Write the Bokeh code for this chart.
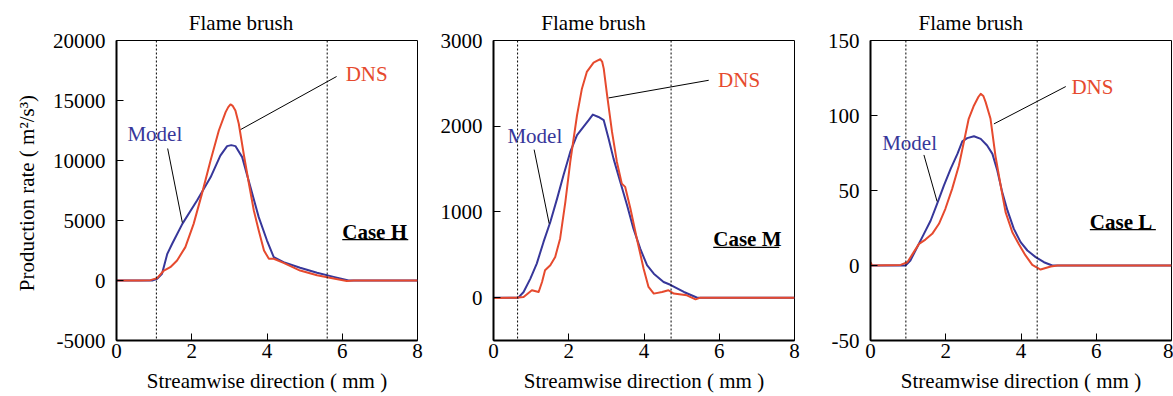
from bokeh.plotting import figure
from bokeh.layouts import row
from bokeh.models import Span, Label, FixedTicker, Range1d
from bokeh.embed import file_html
from bokeh.resources import INLINE

FONT = "Liberation Serif"
FS = "21px"
DNS_COLOR = "#e64a2e"
MODEL_COLOR = "#37379a"

# ---------------- data ----------------
x_ticks = [0, 2, 4, 6, 8]

# Case H
h_dns_x = [0, 0.6, 0.9, 1.08, 1.26, 1.43, 1.61, 1.83, 2.05, 2.27, 2.5, 2.72, 2.9, 2.97, 3.03, 3.09,
           3.16, 3.25, 3.38, 3.52, 3.65, 3.78, 3.92, 4.05, 4.18, 4.44, 4.88, 5.33, 5.77, 6.12, 6.3, 8.0]
h_dns_y = [0, 0, 30, 200, 830, 1110, 1670, 2780, 4720, 7220, 10000, 12500, 14030, 14450, 14670, 14550,
           14170, 13060, 10560, 8060, 5830, 4170, 2500, 1810, 1810, 1470, 830, 440, 170, -50, 0, 0]
h_model_x = [0, 0.95, 1.08, 1.21, 1.35, 1.48, 1.75, 2.14, 2.5, 2.76, 2.94, 3.05, 3.16, 3.34, 3.56, 3.78,
             4.0, 4.18, 4.44, 4.88, 5.33, 5.77, 6.17, 8.0]
h_model_y = [0, 0, 140, 560, 2220, 3060, 4720, 6670, 8600, 10400, 11200, 11280, 11200, 10280, 7780, 5280,
             3330, 1940, 1530, 1060, 640, 300, 0, 0]
h_brush = [1.06, 5.6]
h_yticks = [-5000, 0, 5000, 10000, 15000, 20000]
h_yrange = [-5000, 20000]

# Case M
m_dns_x = [0, 0.6, 0.8, 1.02, 1.2, 1.29, 1.37, 1.51, 1.64, 1.77, 1.91, 2.04, 2.22, 2.35, 2.48, 2.66,
           2.76, 2.84, 2.89, 2.93, 3.02, 3.15, 3.28, 3.41, 3.5, 3.64, 3.81, 3.99, 4.12, 4.26, 4.48,
           4.65, 4.79, 5.14, 5.37, 5.5, 8.0]
m_dns_y = [-5, 0, 8, 86, 66, 183, 320, 378, 475, 688, 1117, 1583, 2128, 2438, 2633, 2742,
           2765, 2781, 2750, 2672, 2361, 1933, 1583, 1330, 1292, 1038, 688, 338, 125, 47, 66,
           86, 47, 27, -20, 0, 0]
m_model_x = [0, 0.66, 0.8, 0.98, 1.15, 1.33, 1.51, 1.69, 1.86, 2.04, 2.22, 2.39, 2.53, 2.64, 2.79,
             2.93, 3.06, 3.19, 3.37, 3.55, 3.72, 3.9, 4.08, 4.26, 4.52, 4.7, 5.06, 5.37, 5.41, 8.0]
m_model_y = [0, 0, 66, 222, 397, 650, 883, 1155, 1428, 1700, 1895, 1992, 2070, 2135, 2108,
             2070, 1855, 1622, 1350, 1078, 805, 572, 378, 280, 183, 150, 66, 8, 0, 0]
m_brush = [0.64, 4.72]
m_yticks = [0, 1000, 2000, 3000]
m_yrange = [-500, 3000]

# Case L
l_dns_x = [0, 0.04, 0.8, 0.98, 1.15, 1.29, 1.46, 1.64, 1.82, 1.99, 2.17, 2.35, 2.48, 2.61, 2.75,
           2.87, 2.93, 3.0, 3.06, 3.19, 3.32, 3.46, 3.59, 3.77, 3.94, 4.12, 4.3, 4.52, 4.79, 4.97, 8.0]
l_dns_y = [2.2, 0, 0.4, 2.2, 8.9, 14.4, 17.3, 21.1, 27.8, 37.8, 51.1, 66.7, 82.2, 97.8, 106.7,
           112.5, 114.4, 113, 108.9, 97.8, 73.3, 53.3, 35.6, 22.2, 14.4, 6.7, 0.4, -2.7, -0.7, 0, 0]
l_model_x = [0, 0.93, 1.06, 1.24, 1.42, 1.6, 1.77, 1.95, 2.13, 2.31, 2.44, 2.57, 2.75, 2.93, 3.1,
             3.24, 3.37, 3.5, 3.64, 3.81, 3.99, 4.17, 4.39, 4.61, 4.83, 8.0]
l_model_y = [0, 0, 3.3, 12.2, 21.1, 30, 41.1, 53.3, 64.4, 74.4, 82.7, 84.9, 86.2, 84.4, 80,
             74.4, 63.3, 48.9, 36.7, 24.4, 15.6, 10, 5.6, 2.2, 0, 0]
l_brush = [0.94, 4.43]
l_yticks = [-50, 0, 50, 100, 150]
l_yrange = [-50, 150]

tick_overrides = {-5000: "-5000", -50: "-50"}

# annotation anchors (data coords): label position and leader line
annot = {
    "H": dict(dns_lbl=(6.09, 17250), dns_line=(5.85, 17000, 3.30, 12580),
              mod_lbl=(0.29, 12250), mod_line=(1.36, 11000, 1.75, 4830),
              case_lbl=(6.0, 4080), case="Case H"),
    "M": dict(dns_lbl=(5.97, 2545), dns_line=(5.72, 2536, 3.06, 2330),
              mod_lbl=(0.37, 1881), mod_line=(1.08, 1727, 1.48, 864),
              case_lbl=(5.84, 679), case="Case M"),
    "L": dict(dns_lbl=(5.34, 119.2), dns_line=(5.19, 119.3, 3.28, 94.4),
              mod_lbl=(0.31, 81.7), mod_line=(1.42, 73.7, 1.77, 42.7),
              case_lbl=(5.83, 29.2), case="Case L"),
}

FRAME_W = 301
FRAME_H = 300
FIG_H = 396


def make_panel(key, dx, dy, mx, my, brush, yticks, yrange, width, bl, br, ylabel=None):
    mid_px = (brush[0] + brush[1]) / 2 * FRAME_W / 8
    p = figure(width=width, height=FIG_H, x_range=Range1d(0, 8), y_range=Range1d(*yrange),
               output_backend="svg", toolbar_location=None, title="Flame brush",
               min_border_left=bl, min_border_right=br, min_border_top=40, min_border_bottom=56)
    p.title.align = "left"
    p.title.offset = mid_px - 53
    p.title.text_font = FONT
    p.title.text_font_size = FS
    p.title.text_font_style = "normal"
    p.title.text_color = "black"
    p.title.standoff = 12
    p.grid.visible = False
    p.outline_line_color = "black"
    p.outline_line_width = 1
    p.background_fill_color = "white"
    p.border_fill_color = "white"

    p.xaxis.ticker = FixedTicker(ticks=x_ticks)
    p.yaxis.ticker = FixedTicker(ticks=yticks)
    p.yaxis.major_label_overrides = tick_overrides
    for ax in (p.xaxis[0], p.yaxis[0]):
        ax.axis_line_width = 2
        ax.axis_line_color = "black"
        ax.major_tick_in = 7
        ax.major_tick_out = 0
        ax.minor_tick_in = 0
        ax.minor_tick_out = 0
        ax.major_tick_line_color = "black"
        ax.major_tick_line_width = 1
        ax.major_label_text_font = FONT
        ax.major_label_text_font_size = FS
        ax.major_label_text_color = "black"
        ax.axis_label_text_font = FONT
        ax.axis_label_text_font_size = FS
        ax.axis_label_text_font_style = "normal"
        ax.axis_label_text_color = "black"
    p.xaxis.major_label_standoff = 3
    p.xaxis.axis_label = "Streamwise direction ( mm )"
    p.xaxis.axis_label_standoff = 8
    p.yaxis.major_label_standoff = 11
    if ylabel:
        p.yaxis.axis_label = ylabel
        p.yaxis.axis_label_standoff = 11

    for b in brush:
        p.add_layout(Span(location=b, dimension="height", line_color="black",
                          line_width=1, line_dash="2 2"))

    p.line(mx, my, line_color=MODEL_COLOR, line_width=2, line_join="round")
    p.line(dx, dy, line_color=DNS_COLOR, line_width=2, line_join="round")

    a = annot[key]
    for (x0, y0, x1, y1) in (a["dns_line"], a["mod_line"]):
        p.segment(x0=[x0], y0=[y0], x1=[x1], y1=[y1], line_color="black", line_width=1)

    p.add_layout(Label(x=a["dns_lbl"][0], y=a["dns_lbl"][1], text="DNS", text_font=FONT,
                       text_font_size=FS, text_color=DNS_COLOR, text_baseline="middle"))
    p.add_layout(Label(x=a["mod_lbl"][0], y=a["mod_lbl"][1], text="Model", text_font=FONT,
                       text_font_size=FS, text_color=MODEL_COLOR, text_baseline="middle"))
    cx, cy = a["case_lbl"]
    p.add_layout(Label(x=cx, y=cy, text=a["case"], text_font=FONT, text_font_size=FS,
                       text_font_style="bold", text_color="black", text_baseline="middle"))
    # underline
    unit_y = (yrange[1] - yrange[0]) / FRAME_H
    unit_x = 8 / FRAME_W
    uy = cy - 8 * unit_y
    p.segment(x0=[cx], y0=[uy], x1=[cx + 66 * unit_x], y1=[uy], line_color="black", line_width=1.2)
    return p


p1 = make_panel("H", h_dns_x, h_dns_y, h_model_x, h_model_y, h_brush, h_yticks, h_yrange,
                430, 116, 13, ylabel="Production rate  ( m\u00b2/s\u00b3)")
p2 = make_panel("M", m_dns_x, m_dns_y, m_model_x, m_model_y, m_brush, m_yticks, m_yrange,
                375, 63, 11)
p3 = make_panel("L", l_dns_x, l_dns_y, l_model_x, l_model_y, l_brush, l_yticks, l_yrange,
                368, 65, 2)

layout = row(p1, p2, p3)
open("out.html", "w").write(file_html(layout, INLINE))
